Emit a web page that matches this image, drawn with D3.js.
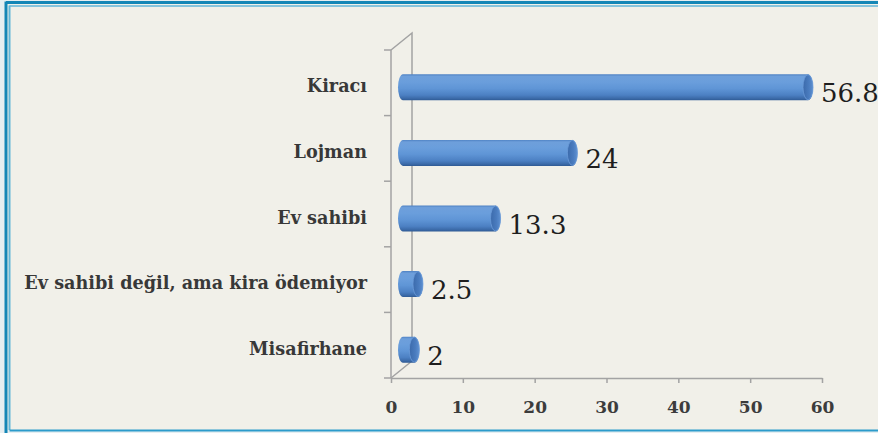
<!DOCTYPE html>
<html>
<head>
<meta charset="utf-8">
<script src="https://cdn.jsdelivr.net/npm/d3@7"></script>
<style>
html,body{margin:0;padding:0;background:#e9eef0;}
svg{display:block;}
</style>
</head>
<body>
<svg id="chart" width="878" height="433"></svg>
<script>
const categories = ["Kiracı", "Lojman", "Ev sahibi", "Ev sahibi değil, ama kira ödemiyor", "Misafirhane"];
const values = [56.8, 24, 13.3, 2.5, 2];
const valueLabels = ["56.8", "24", "13.3", "2.5", "2"];
const tickValues = [0, 10, 20, 30, 40, 50, 60];

const svg = d3.select("#chart");
const W = 878, H = 433;

// background and frame
svg.append("rect").attr("x", 0).attr("y", 0).attr("width", W).attr("height", H).attr("fill", "#e6eef1");
svg.append("rect").attr("x", 6).attr("y", 3).attr("width", W).attr("height", 427).attr("fill", "#f1f0e9");
svg.append("line").attr("x1", 6).attr("x2", 6).attr("y1", 1.5).attr("y2", 433).attr("stroke", "#1486b6").attr("stroke-width", 3);
svg.append("line").attr("x1", 6).attr("x2", W).attr("y1", 2.5).attr("y2", 2.5).attr("stroke", "#1486b6").attr("stroke-width", 3);
svg.append("line").attr("x1", 9.5).attr("x2", 9.5).attr("y1", 5.5).attr("y2", 430).attr("stroke", "#62b6d8").attr("stroke-width", 2);
svg.append("line").attr("x1", 9.5).attr("x2", W).attr("y1", 6).attr("y2", 6).attr("stroke", "#62b6d8").attr("stroke-width", 1.5);
svg.append("line").attr("x1", 9.5).attr("x2", W).attr("y1", 430.5).attr("y2", 430.5).attr("stroke", "#2c9bcb").attr("stroke-width", 2);

// scales
const x = d3.scaleLinear().domain([0, 60]).range([391, 822]);
const y = d3.scaleBand().domain(categories).range([50, 378]).padding(0);
const depthX = 21, depthY = -17;
const axisColor = "#a3a3a3";

// 3D walls
const g = svg.append("g");
const x0 = x(0), yTop = y.range()[0], yBot = y.range()[1];
g.append("path")
  .attr("d", `M${x0},${yTop} L${x0 + depthX},${yTop + depthY} L${x0 + depthX},${yBot + depthY} L${x0},${yBot}`)
  .attr("fill", "none").attr("stroke", axisColor).attr("stroke-width", 1.5);
g.append("line").attr("x1", x0).attr("x2", x0).attr("y1", yTop).attr("y2", yBot)
  .attr("stroke", axisColor).attr("stroke-width", 1.5);
// category boundary ticks
const boundaries = categories.map(c => y(c)).concat([yBot]);
g.selectAll(".ctick").data(boundaries).enter().append("line")
  .attr("x1", x0 - 7).attr("x2", x0).attr("y1", d => d).attr("y2", d => d)
  .attr("stroke", axisColor).attr("stroke-width", 1.5);

// bottom axis
const xAxis = d3.axisBottom(x).tickValues(tickValues).tickSize(5).tickSizeOuter(0).tickFormat(d3.format("d"));
const ax = svg.append("g").attr("transform", `translate(0,${yBot})`).call(xAxis);
ax.select(".domain").attr("stroke", axisColor).attr("stroke-width", 1.5);
ax.selectAll(".tick line").attr("stroke", axisColor).attr("stroke-width", 1.5);
ax.selectAll(".tick text")
  .attr("y", 35).attr("dy", 0)
  .attr("font-family", "'DejaVu Serif', serif").attr("font-weight", "bold")
  .attr("font-size", "17px").attr("fill", "#3c3c3c");

// gradients
const defs = svg.append("defs");
const grad = defs.append("linearGradient").attr("id", "barGrad").attr("x1", 0).attr("x2", 0).attr("y1", 0).attr("y2", 1);
[[0, "#4f82c4"], [0.08, "#6e9fdb"], [0.3, "#6a9edc"], [0.55, "#5f95d6"], [0.8, "#4c80c3"], [0.93, "#3b6aa8"], [1, "#2f5a94"]]
  .forEach(([o, c]) => grad.append("stop").attr("offset", o).attr("stop-color", c));
const capGrad = defs.append("linearGradient").attr("id", "capGrad").attr("x1", 0).attr("x2", 1).attr("y1", 0).attr("y2", 0);
[[0, "#3b6aab"], [0.6, "#4a7cbf"], [1, "#5e90d0"]]
  .forEach(([o, c]) => capGrad.append("stop").attr("offset", o).attr("stop-color", c));

// bars
const barH = 26, capR = 5;
const bars = svg.append("g").selectAll(".bar").data(categories).enter().append("g").attr("class", "bar");
bars.each(function (c, i) {
  const gg = d3.select(this);
  const cy = y(c) + y.bandwidth() / 2 + 4.5;
  const left = x(0) + 7, right = x(values[i]) + 14;
  const t = cy - barH / 2, b = cy + barH / 2;
  gg.append("path")
    .attr("d", `M${left + capR},${t} L${right - capR},${t} A${capR},${barH / 2} 0 0 1 ${right - capR},${b} L${left + capR},${b} A${capR},${barH / 2} 0 0 1 ${left + capR},${t} Z`)
    .attr("fill", "url(#barGrad)");
  gg.append("ellipse")
    .attr("cx", right - capR).attr("cy", cy).attr("rx", capR).attr("ry", barH / 2 - 0.5)
    .attr("fill", "url(#capGrad)").attr("stroke", "#6b9bd8").attr("stroke-width", 0.8);
  gg.append("text")
    .attr("x", right + 8).attr("y", cy + 15)
    .attr("font-family", "'DejaVu Serif', serif")
    .attr("font-size", "26px").attr("fill", "#1e1e1e")
    .text(valueLabels[i]);
});

// category labels
const labels = svg.append("g").selectAll(".clabel").data(categories).enter().append("text")
  .attr("x", 367)
  .attr("y", c => y(c) + y.bandwidth() / 2 + 9.5)
  .attr("text-anchor", "end")
  .attr("font-family", "'DejaVu Serif', serif").attr("font-weight", "bold")
  .attr("font-size", "17px").attr("fill", "#383838")
  .text(c => c);
// fit longest label width to the reference width
const longest = labels.filter((d, i) => i === 3).node();
const wNow = longest.getComputedTextLength();
const fs = 17 * 343 / wNow;
labels.attr("font-size", Math.min(Math.max(fs, 14), 20) + "px");
</script>
</body>
</html>
